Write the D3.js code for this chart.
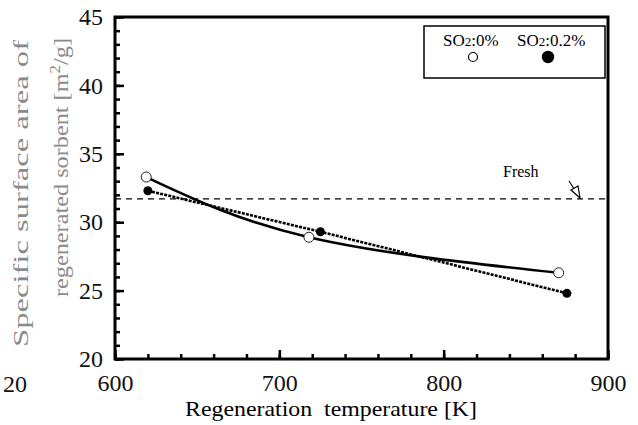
<!DOCTYPE html>
<html>
<head>
<meta charset="utf-8">
<script src="https://cdn.jsdelivr.net/npm/d3@7"></script>
<style>
  body { margin: 0; background: #fff; }
  svg { display: block; }
</style>
</head>
<body>
<div id="chart"></div>
<script>
// data
var tempNoSO2 = [619, 718, 870];
var areaNoSO2 = [33.3, 28.9, 26.3];
var tempSO2 = [620, 725, 875];
var areaSO2 = [32.3, 29.3, 24.8];
var freshArea = 31.7;
var xMajorTicks = [600, 700, 800, 900];
var yMajorTicks = [20, 25, 30, 35, 40, 45];

var svgWidth = 638, svgHeight = 425;
var margin = {top: 17, right: 30, bottom: 66, left: 115};
var chartWidth = svgWidth - margin.left - margin.right;   // 493
var chartHeight = svgHeight - margin.top - margin.bottom; // 342

var serif = "'Liberation Serif', Tinos, 'Times New Roman', Times, serif";

var svg = d3.select("#chart").append("svg")
  .attr("width", svgWidth)
  .attr("height", svgHeight);

var g = svg.append("g")
  .attr("transform", `translate(${margin.left}, ${margin.top})`);

var x = d3.scaleLinear().domain([600, 900]).range([0, chartWidth]);
var y = d3.scaleLinear().domain([20, 45]).range([chartHeight, 0]);

// minor ticks, pointing inside
var xMinor = g.append("g")
  .attr("transform", `translate(0, ${chartHeight})`)
  .call(d3.axisBottom(x).tickValues(d3.range(600, 901, 20)).tickSize(-5).tickFormat(""));
var yMinor = g.append("g")
  .call(d3.axisLeft(y).tickValues(d3.range(20, 46, 1)).tickSize(-5).tickFormat(""));

// major ticks with labels
var xAxis = g.append("g")
  .attr("transform", `translate(0, ${chartHeight})`)
  .call(d3.axisBottom(x).tickValues(xMajorTicks).tickSize(-9).tickPadding(15).tickFormat(d3.format("d")));
var yAxis = g.append("g")
  .call(d3.axisLeft(y).tickValues(yMajorTicks).tickSize(-9).tickPadding(12).tickFormat(d3.format("d")));

[xMinor, yMinor, xAxis, yAxis].forEach(function(a) {
  a.attr("font-family", null).attr("font-size", null);
  a.select(".domain").remove();
  a.selectAll("line").attr("stroke", "#000").attr("stroke-width", 2.5);
  a.selectAll("text").attr("font-size", 24).attr("fill", "#111");
});

// frame
g.append("rect")
  .attr("width", chartWidth)
  .attr("height", chartHeight)
  .attr("fill", "none")
  .attr("stroke", "#000")
  .attr("stroke-width", 3);

// fresh level
g.append("line")
  .attr("x1", 0).attr("x2", chartWidth)
  .attr("y1", y(freshArea)).attr("y2", y(freshArea))
  .attr("stroke", "#000")
  .attr("stroke-width", 1.2)
  .attr("stroke-dasharray", "6,5");

g.append("text")
  .attr("x", 388).attr("y", 160)
  .attr("font-size", 16)
  .text("Fresh");

// little arrow pointing to the dashed line
g.append("line")
  .attr("x1", 454).attr("y1", 164)
  .attr("x2", 463).attr("y2", 178)
  .attr("stroke", "#000").attr("stroke-width", 1.2);
g.append("path")
  .attr("d", "M465,181 L456,173 L463,169 Z")
  .attr("fill", "#fff").attr("stroke", "#000").attr("stroke-width", 1.2);

// series lines
var noSO2 = tempNoSO2.map(function(t, i) { return [t, areaNoSO2[i]]; });
var withSO2 = tempSO2.map(function(t, i) { return [t, areaSO2[i]]; });

g.append("path")
  .datum(noSO2)
  .attr("fill", "none")
  .attr("stroke", "#000")
  .attr("stroke-width", 2.6)
  .attr("d", d3.line().x(d => x(d[0])).y(d => y(d[1])).curve(d3.curveNatural));

g.append("path")
  .datum(withSO2)
  .attr("fill", "none")
  .attr("stroke", "#000")
  .attr("stroke-width", 2.6)
  .attr("stroke-dasharray", "3,1.2")
  .attr("d", d3.line().x(d => x(d[0])).y(d => y(d[1])));

// markers
g.selectAll(".open")
  .data(noSO2)
  .enter().append("circle")
  .attr("class", "open")
  .attr("cx", d => x(d[0])).attr("cy", d => y(d[1]))
  .attr("r", 5)
  .attr("fill", "#fff").attr("stroke", "#222").attr("stroke-width", 1);

g.selectAll(".filled")
  .data(withSO2)
  .enter().append("circle")
  .attr("class", "filled")
  .attr("cx", d => x(d[0])).attr("cy", d => y(d[1]))
  .attr("r", 4.5)
  .attr("fill", "#000");

// legend
var legend = svg.append("g");
legend.append("rect")
  .attr("x", 424).attr("y", 26)
  .attr("width", 181).attr("height", 52)
  .attr("fill", "#fff").attr("stroke", "#000").attr("stroke-width", 1.5);

var leg1 = legend.append("text").attr("x", 443).attr("y", 46).attr("font-size", 17);
leg1.append("tspan").text("SO");
leg1.append("tspan").attr("font-size", 13).text("2");
leg1.append("tspan").text(":0%");
legend.append("circle").attr("cx", 473).attr("cy", 57).attr("r", 4.5)
  .attr("fill", "#fff").attr("stroke", "#000").attr("stroke-width", 1.2);

var leg2 = legend.append("text").attr("x", 517).attr("y", 46).attr("font-size", 17);
leg2.append("tspan").text("SO");
leg2.append("tspan").attr("font-size", 13).text("2");
leg2.append("tspan").text(":0.2%");
legend.append("circle").attr("cx", 548).attr("cy", 57).attr("r", 6.2).attr("fill", "#000");

// x axis title
svg.append("text")
  .attr("x", 185).attr("y", 416)
  .attr("font-size", 21)
  .attr("textLength", 292)
  .attr("lengthAdjust", "spacingAndGlyphs")
  .text("Regeneration\u00a0\u00a0temperature [K]");

// y axis title, two grey stretched lines
svg.append("text")
  .attr("transform", "translate(28, 40) rotate(-90)")
  .attr("text-anchor", "end")
  .attr("font-size", 20)
  .attr("fill", "#8a8a8a")
  .attr("textLength", 307)
  .attr("lengthAdjust", "spacingAndGlyphs")
  .text("Specific surface area of");

var yl2 = svg.append("text")
  .attr("transform", "translate(68, 38) rotate(-90)")
  .attr("text-anchor", "end")
  .attr("font-size", 20)
  .attr("fill", "#8a8a8a")
  .attr("textLength", 259)
  .attr("lengthAdjust", "spacingAndGlyphs");
yl2.append("tspan").text("regenerated sorbent [m");
yl2.append("tspan").attr("dy", -8).attr("font-size", 14).text("2");
yl2.append("tspan").attr("dy", 8).text("/g]");

// stray label near the left edge of the picture
svg.append("text")
  .attr("x", 27).attr("y", 392)
  .attr("text-anchor", "end")
  .attr("font-size", 24)
  .attr("fill", "#111")
  .text("20");

// one serif face for every text
svg.selectAll("text").style("font-family", serif);
</script>
</body>
</html>
